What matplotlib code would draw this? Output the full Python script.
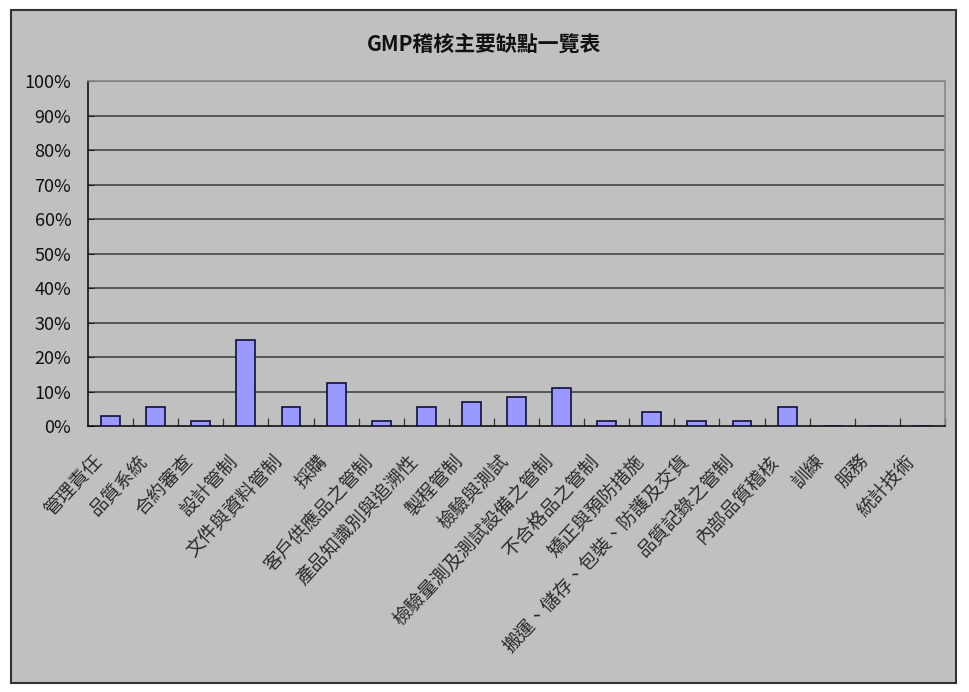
import matplotlib
matplotlib.use("Agg")
import matplotlib.pyplot as plt
from matplotlib.patches import Rectangle
from matplotlib.transforms import offset_copy

plt.rcParams["font.family"] = ["Noto Sans CJK TC", "DejaVu Sans"]

# Data (share of findings, %)
categories = [
    "管理責任", "品質系統", "合約審查", "設計管制", "文件與資料管制",
    "採購", "客戶供應品之管制", "產品知識別與追溯性", "製程管制", "檢驗與測試",
    "檢驗量測及測試設備之管制", "不合格品之管制", "矯正與預防措施",
    "搬運、儲存、包裝、防護及交貨", "品質記錄之管制", "內部品質稽核",
    "訓練", "服務", "統計技術",
]
values = [2.8, 5.6, 1.4, 25.0, 5.6, 12.5, 1.4, 5.6, 6.9, 8.3,
          11.1, 1.4, 4.2, 1.4, 1.4, 5.6, 0, 0, 0]
y_ticks = list(range(0, 101, 10))
title = "GMP稽核主要缺點一覽表"

bg = "#c0c0c0"

fig = plt.figure(figsize=(9.69, 6.92), dpi=100)
fig.patch.set_facecolor("white")

# chart area box (behind the axes)
fig.patches.append(Rectangle((11 / 969, 1 - 683 / 692), 945 / 969, 673 / 692,
                             transform=fig.transFigure, facecolor=bg,
                             edgecolor="#333333", linewidth=1.5, zorder=-5))

ax = fig.add_axes([88 / 969, 1 - 426 / 692, 857 / 969, 345 / 692])
ax.set_facecolor(bg)

x = list(range(len(categories)))
ax.bar(x, values, width=0.42, color="#9999ff", edgecolor="#10103a",
       linewidth=1.2, zorder=3)

ax.set_xlim(-0.5, len(categories) - 0.5)
ax.set_ylim(0, 100)
ax.set_yticks(y_ticks)
ax.set_yticklabels([f"{v}%" for v in y_ticks], fontsize=13, color="#111111")
ax.tick_params(axis="y", direction="in", length=4, pad=12, color="#222222")

# grid lines
for v in y_ticks[1:]:
    ax.axhline(v, color="#3c3c3c", linewidth=1.1, zorder=1)

# category boundary ticks
ax.set_xticks([i + 0.5 for i in x[:-1]] + [len(categories) - 0.5])
ax.set_xticklabels([])
ax.tick_params(axis="x", direction="in", length=6, width=0.9, color="#333333")

for side in ["top", "right"]:
    ax.spines[side].set_color("#888888")
    ax.spines[side].set_linewidth(1.2)
for side in ["left", "bottom"]:
    ax.spines[side].set_color("#111111")
    ax.spines[side].set_linewidth(1.2)

lbl_tr = offset_copy(ax.transData, fig=fig, x=-19, y=-25, units="dots")
for i, name in zip(x, categories):
    ax.text(i, 0, name, transform=lbl_tr, rotation=47, rotation_mode="anchor",
            ha="right", va="top", fontsize=13.5, color="#2a2a2a")

fig.text(484 / 969, 1 - 45 / 692, title, ha="center", va="center",
         fontsize=15, fontweight="bold", color="#111111")

fig.savefig("out.png", dpi=100, facecolor="white")
